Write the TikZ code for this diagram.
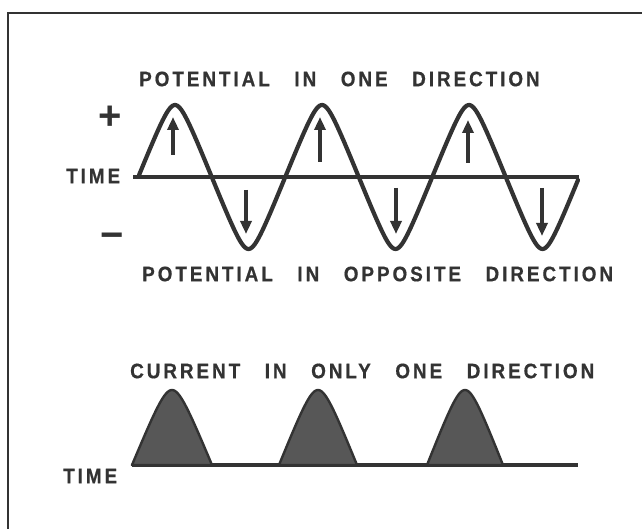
\documentclass[tikz,border=0pt]{standalone}
\usepackage{fontspec}
\usetikzlibrary{arrows.meta}
\newfontfamily\lettering{Liberation Sans}[UprightFont={* Bold}, FakeStretch=0.9, LetterSpace=14, WordSpace=3, FakeBold=0.6]
\newfontfamily\signs{Liberation Sans}[UprightFont={* Bold}]
\definecolor{ink}{HTML}{333333}
\begin{document}
\begin{tikzpicture}[x=1pt, y=-1pt,
  lbl/.style={font=\lettering\fontsize{21}{21}\selectfont, text=ink, inner sep=0pt, anchor=west},
  sgn/.style={font=\signs\fontsize{40}{40}\selectfont, text=ink, inner sep=0pt},
  wave/.style={draw=ink, line width=4.2pt, line join=round, line cap=round},
  axisline/.style={draw=ink, line width=3.4pt},
  arr/.style={draw=ink, line width=3.4pt, -{Triangle[length=13pt,width=11pt]}},
  hump/.style={fill=black!66, draw=ink, line width=2.4pt, line join=round},
  frameline/.style={draw=ink, line width=2.2pt}]
\useasboundingbox (0,0) rectangle (642,529);
\fill[white] (0,0) rectangle (642,529);
% frame
\coordinate (f0) at (8,529);
\coordinate (f1) at (8,13);
\coordinate (f2) at (642,13);
\draw[frameline] (f0) -- (f1) -- (f2);
% labels
\node[lbl] (t1) at (139,79) {POTENTIAL IN ONE DIRECTION};
\node[lbl] (t2) at (142,274) {POTENTIAL IN OPPOSITE DIRECTION};
\node[lbl] (t3) at (130,371) {CURRENT IN ONLY ONE DIRECTION};
\node[lbl] (time1) at (66,176) {TIME};
\node[lbl] (time2) at (63,476) {TIME};
\node[sgn] (plus) at (110,118) {+};
\node[sgn] (minus) at (112,241) {−};
% top axis and wave
\coordinate (a0) at (133,177);
\coordinate (a1) at (579,177);
\draw[axisline] (a0) -- (a1);
\draw[wave] plot[domain=139:578, samples=300, variable=\t]
  (\t, {177-72*asin(0.92*cos((\t-175)/147*360))/asin(0.92)});
% arrows
\coordinate (u1s) at (173,155); \coordinate (u1e) at (173,117);
\coordinate (u2s) at (320,162); \coordinate (u2e) at (320,117);
\coordinate (u3s) at (468,163); \coordinate (u3e) at (468,120);
\coordinate (d1s) at (246,190); \coordinate (d1e) at (246,234);
\coordinate (d2s) at (396,188); \coordinate (d2e) at (396,234);
\coordinate (d3s) at (542,188); \coordinate (d3e) at (542,236);
\draw[arr] (u1s) -- (u1e);
\draw[arr] (u2s) -- (u2e);
\draw[arr] (u3s) -- (u3e);
\draw[arr] (d1s) -- (d1e);
\draw[arr] (d2s) -- (d2e);
\draw[arr] (d3s) -- (d3e);
% bottom baseline and humps
\coordinate (b0) at (132,465);
\coordinate (b1) at (578,465);
\draw[axisline] (b0) -- (b1);
\filldraw[hump] plot[domain=132:212, samples=80, variable=\t]
  (\t, {465-75*asin(0.9*sin((\t-132)/80*180))/asin(0.9)}) -- cycle;
\filldraw[hump] plot[domain=279:357, samples=80, variable=\t]
  (\t, {465-75*asin(0.9*sin((\t-279)/78*180))/asin(0.9)}) -- cycle;
\filldraw[hump] plot[domain=427:503, samples=80, variable=\t]
  (\t, {465-75*asin(0.9*sin((\t-427)/76*180))/asin(0.9)}) -- cycle;
\end{tikzpicture}
\end{document}
